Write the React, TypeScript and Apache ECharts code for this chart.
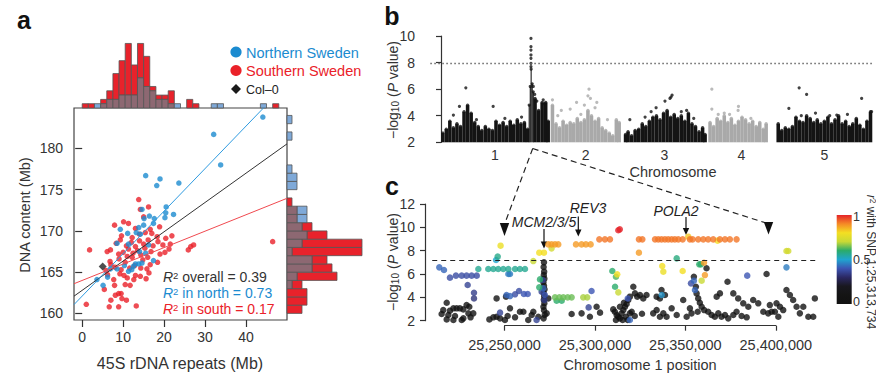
import React, { useEffect, useRef } from "react";
import * as echarts from "echarts";

const FONT = "'Liberation Sans', Arial, Helvetica, sans-serif";
const BLUE = "#1b8bd0";
const RED = "#ea2129";
const MAUVE = "#8d6872";
const BLUE_H = "#7fa9d8";
const RED_H = "#e8222b";
const INK = "#333333";

// ---------------- Panel a: scatter ----------------
const northPoints = [
  [44.1, 183.8], [32.1, 181.7], [33.8, 178.0], [15.5, 176.7], [18.2, 175.5], [19.0, 176.3], [23.6, 175.8],
  [20.4, 172.2], [20.5, 172.9], [22.3, 172.0], [20.2, 171.6], [17.6, 171.5], [16.4, 171.8], [15.1, 171.5], [14.6, 172.6],
  [15.0, 170.7], [13.8, 170.4], [13.2, 169.8], [11.1, 169.7], [9.3, 170.2], [17.4, 170.9], [14.2, 169.6],
  [8.5, 168.5], [11.3, 168.4], [15.5, 167.3], [17.4, 166.4], [13.8, 166.0], [14.6, 166.1], [13.0, 166.0],
  [10.3, 165.8], [12.1, 165.3], [11.3, 165.1], [8.5, 165.4], [6.9, 165.4], [6.2, 164.4], [3.6, 164.1], [5.1, 163.4],
  [12.5, 165.7], [16.2, 168.3], [14.0, 167.5],
];
const southPoints = [
  [6.6, 160.8], [8.9, 160.8], [13.2, 160.9],
  [1.0, 161.1], [9.7, 161.8], [10.8, 161.6], [7.0, 161.6],
  [8.9, 162.4], [8.1, 162.2], [9.5, 162.4], [5.4, 162.9],
  [7.9, 163.4], [10.5, 163.5], [11.7, 163.4],
  [7.7, 164.1], [12.6, 164.1], [13.0, 164.6], [9.2, 164.8], [11.0, 164.3], [14.2, 164.5], [15.6, 164.2], [6.2, 164.7], [16.3, 164.9], [10.2, 164.6],
  [5.8, 165.2], [8.0, 165.6], [9.5, 165.3], [12.8, 165.8], [14.3, 165.5], [15.8, 165.4], [16.6, 165.9], [11.6, 165.5], [7.0, 165.9],
  [6.8, 166.3], [9.0, 166.6], [10.5, 166.2], [12.2, 166.8], [14.8, 166.5], [16.0, 166.8], [18.4, 166.2], [11.0, 166.9],
  [1.8, 167.7], [6.1, 167.5], [6.9, 167.7], [8.9, 167.2], [10.0, 167.4], [11.3, 167.8], [12.4, 167.3], [13.5, 167.6], [14.3, 167.1], [15.3, 167.9], [16.8, 167.5], [19.0, 167.2], [21.2, 167.8], [25.9, 167.7], [20.2, 167.4],
  [8.3, 168.5], [9.3, 168.9], [10.8, 168.2], [12.0, 168.6], [13.0, 168.1], [14.0, 168.8], [15.0, 168.4], [16.1, 168.9], [17.3, 168.2], [18.5, 168.7], [19.7, 168.3], [21.5, 168.4], [26.5, 168.1], [27.2, 168.3], [46.5, 168.7],
  [9.6, 169.4], [12.2, 169.2], [14.0, 169.6], [15.4, 169.8], [17.0, 169.7], [18.3, 169.3], [20.4, 169.1], [21.9, 169.4],
  [7.9, 170.7], [13.0, 170.3], [16.6, 170.2], [18.9, 170.5], [11.3, 170.9],
  [10.1, 171.1], [15.0, 171.7],
  [14.2, 172.6], [16.2, 172.9],
  [13.8, 173.8],
];
const col0Point = [[5.0, 165.7]];
const overallFit = [[-2, 162.09], [50, 180.55]];
const northFit = [[-2, 161.07], [46, 185.8]];
const southFit = [[-2, 163.6], [50, 173.95]];

// top marginal histogram (bins of 1.5 Mb rDNA)
const TOP_BIN = 1.5;
const topBinStart = [0, 1.5, 3, 4.5, 6, 7.5, 9, 10.5, 12, 13.5, 15, 16.5, 18, 19.5, 21, 22.5, 24, 25.5, 27, 28.5, 30, 31.5, 33, 34.5, 36, 37.5, 39, 40.5, 42, 43.5, 45, 46.5];
const topNorth = [0, 0, 1, 1, 2, 2, 3, 3, 3, 7, 5, 4, 2, 2, 1, 1, 0, 0, 0, 0, 0, 1, 1, 0, 0, 0, 0, 0, 0, 1, 0, 0];
const topSouth = [1, 1, 0, 2, 4, 8, 11, 15, 10, 15, 12, 5, 3, 3, 4, 0, 0, 2, 1, 0, 0, 0, 0, 0, 0, 0, 0, 0, 0, 0, 0, 1];

// right marginal histogram (bins of 1 Mb DNA content)
const RIGHT_BIN = 1;
const rightBinStart = [160, 161, 162, 163, 164, 165, 166, 167, 168, 169, 170, 171, 172, 173, 174, 175, 176, 177, 178, 179, 180, 181, 182, 183];
const rightNorth = [0, 0, 0, 1, 2, 5, 5, 1, 3, 4, 3, 4, 4, 0, 0, 2, 2, 1, 0, 0, 0, 1, 0, 1];
const rightSouth = [3, 4, 4, 3, 10, 9, 8, 15, 15, 8, 5, 2, 2, 1, 0, 0, 0, 0, 0, 0, 0, 0, 0, 0];

const xTicksA = [0, 10, 20, 30, 40];
const yTicksA = [160, 165, 170, 175, 180];
const legendNames = ["Northern Sweden", "Southern Sweden", "Col–0"];

// ---------------- Panel b: Manhattan ----------------
const chrOffsets = [0, 30.9, 51.2, 75.3, 94.5];
const chrTicks = [15.2, 40.75, 62.95, 84.6, 108];
const chrLabels = ["1", "2", "3", "4", "5"];
// dense cloud envelopes: [position within chromosome (Mb), upper edge of cloud]
const chr1Env = [[0.5, 2.7], [1.5, 3.0], [2.5, 3.6], [3.5, 3.1], [4.5, 3.4], [5.5, 3.2], [6.5, 4.3], [7.5, 4.8], [8.5, 4.2], [9.5, 3.5], [10.5, 3.2], [11.5, 2.9], [12.5, 3.2], [13.5, 3.0], [14.5, 2.9], [15.5, 3.6], [16.5, 3.3], [17.5, 3.5], [18.5, 3.2], [19.5, 3.6], [20.5, 3.3], [21.5, 3.7], [22.5, 3.4], [23.5, 3.5], [24.4, 3.0], [26.5, 5.3], [27.5, 4.4], [28.5, 5.0], [29.5, 5.0], [30.2, 3.6]];
const chr1Peak = [[24.85, 4.8], [25.15, 6.2], [25.4, 7.5], [25.7, 6.4], [26.0, 5.8]];
const chr2Env = [[0.5, 4.8], [1.5, 3.4], [2.5, 3.1], [3.5, 3.6], [4.5, 3.3], [5.5, 3.5], [6.5, 3.4], [7.5, 3.8], [8.5, 3.5], [9.5, 3.7], [10.5, 4.4], [11.5, 4.0], [12.5, 3.6], [13.5, 3.8], [14.5, 3.1], [15.5, 2.9], [16.5, 2.7], [17.5, 2.5], [18.5, 3.7], [19.3, 3.5]];
const chr3Env = [[0.8, 2.6], [1.5, 2.8], [2.5, 2.5], [3.5, 2.9], [4.5, 3.0], [5.5, 3.4], [6.5, 3.2], [7.5, 3.6], [8.5, 3.9], [9.5, 4.0], [10.5, 3.7], [11.5, 4.2], [12.5, 4.4], [13.5, 3.9], [14.5, 4.1], [15.5, 3.8], [16.5, 4.0], [17.5, 3.6], [18.5, 4.2], [19.5, 3.4], [20.5, 3.2], [21.5, 2.8], [22.5, 3.1], [23.2, 2.6]];
const chr4Env = [[0.5, 3.5], [1.5, 3.2], [2.5, 3.8], [3.5, 3.6], [4.5, 4.0], [5.5, 3.5], [6.5, 3.8], [7.5, 3.3], [8.5, 3.6], [9.5, 3.9], [10.5, 3.7], [11.5, 3.4], [12.5, 3.6], [13.5, 3.2], [14.5, 3.5], [15.5, 3.0], [16.3, 3.4]];
const chr5Env = [[0.5, 3.4], [1.5, 2.9], [2.5, 3.1], [3.5, 3.0], [4.5, 3.2], [5.5, 3.9], [6.5, 3.6], [7.5, 3.5], [8.5, 4.0], [9.5, 3.8], [10.5, 3.5], [11.5, 3.7], [12.5, 3.4], [13.5, 3.6], [14.5, 3.9], [15.5, 3.4], [16.5, 3.7], [17.5, 4.0], [18.5, 3.4], [19.5, 3.6], [20.5, 3.2], [21.5, 3.4], [22.5, 3.8], [23.5, 3.3], [24.5, 3.0], [25.5, 3.6], [26.5, 4.3]];
// isolated SNPs above the cloud
const chr1Pts = [[3.5, 4.05], [5.2, 4.7], [7.0, 6.1], [14.7, 4.7], [22.7, 3.9], [18.0, 3.8], [10.0, 3.7], [25.35, 9.82], [25.35, 9.2], [25.35, 8.94], [25.35, 8.57], [25.35, 8.32], [25.35, 7.94], [25.35, 7.69], [26.0, 6.2], [28.8, 5.2], [29.2, 4.9], [26.4, 5.6], [27.0, 5.1]];
const chr2Pts = [[0.5, 5.2], [7.3, 5.0], [5.5, 4.5], [10.8, 6.0], [10.5, 5.5], [11.2, 5.3], [9.5, 4.8], [13.0, 5.0], [12.5, 4.6], [3.0, 4.4], [8.5, 4.1], [2.0, 4.0], [16.0, 3.7]];
const chr3Pts = [[2.0, 3.7], [6.3, 3.9], [9.4, 4.6], [11.9, 5.1], [13.3, 5.3], [13.9, 5.55], [13.6, 5.4], [18.0, 4.4], [8.0, 4.3], [16.5, 4.3], [20.0, 3.8]];
const chr4Pts = [[1.0, 6.0], [1.0, 4.5], [8.5, 4.7], [8.4, 4.4], [4.5, 4.2], [2.8, 4.1], [6.0, 4.1], [12.0, 3.8]];
const chr5Pts = [[3.5, 4.55], [6.4, 6.1], [8.5, 5.6], [24.0, 5.3], [17.0, 4.05], [7.0, 4.0], [11.0, 4.2], [15.0, 4.0], [20.0, 4.1], [26.8, 4.3]];
const GWAS_THRESHOLD = 7.95;

// ---------------- Panel c: regional plot ----------------
const cBlackWest = [
  [25215200, 2.57], [25218000, 2.11], [25219800, 2.86], [25221700, 3.06], [25223500, 3.06], [25225300, 3.06], [25227200, 2.97], [25218900, 2.49], [25222600, 2.4], [25227200, 2.2], [25230000, 2.63], [25231200, 2.29], [25232700, 2.63], [25229000, 3.34], [25218000, 3.54], [25216100, 2.91], [25226300, 2.06], [25221700, 2.06], [25230500, 3.2],
  [25250800, 4.06], [25245600, 3.91], [25241600, 2.11], [25243800, 2.29], [25245600, 2.34], [25247500, 2.2], [25250200, 2.06], [25251700, 2.4], [25253000, 3.06], [25255800, 2.29], [25258500, 2.77], [25260400, 2.77], [25263100, 2.06], [25265000, 2.49], [25265900, 2.77], [25268700, 2.34],
  [25271800, 7.0], [25271600, 6.6], [25271900, 6.2], [25271700, 5.9], [25272000, 5.6], [25271500, 5.3], [25271800, 5.0], [25272100, 4.7], [25271600, 4.4], [25271900, 4.1], [25271700, 3.8], [25272000, 3.5], [25271500, 3.2], [25271800, 2.9], [25272200, 2.5], [25271600, 2.2], [25273300, 2.63], [25274200, 3.91],
];
const cBlackCentre = [
  [25287100, 2.57], [25292600, 2.63], [25297200, 2.34], [25302800, 2.69], [25300900, 3.2],
  [25310100, 2.97], [25311000, 2.77], [25312000, 2.49], [25312900, 2.34], [25313800, 2.2], [25314700, 2.63], [25315700, 2.91], [25316600, 3.2], [25317500, 3.43], [25318400, 3.77], [25319300, 4.06], [25315300, 2.06], [25311600, 2.06], [25317100, 2.34], [25319300, 2.63], [25320300, 2.77], [25318100, 2.06], [25313800, 3.2], [25316000, 3.54],
  [25321200, 4.91], [25322100, 4.34], [25323400, 4.06], [25324900, 4.2], [25326700, 3.91], [25328500, 4.2], [25322000, 2.4], [25326000, 2.6],
  [25334100, 4.06], [25335900, 3.91], [25336800, 4.63], [25338700, 4.2], [25334100, 2.91], [25335900, 2.34], [25337800, 2.63], [25339600, 2.34], [25342400, 3.06], [25345200, 2.49], [25348800, 3.77], [25350700, 2.34], [25353400, 2.63], [25356800, 2.77], [25352500, 3.06], [25332200, 2.63],
];
const cBlackEast = [
  [25354700, 5.77], [25355800, 4.91], [25356200, 4.34], [25357100, 3.91], [25358000, 3.54], [25359000, 3.2], [25360400, 2.91], [25361700, 6.49], [25362600, 2.77], [25364500, 2.49], [25366300, 2.34], [25368200, 2.63], [25370000, 2.34], [25371900, 2.49], [25373700, 2.2], [25376500, 2.49], [25378300, 2.77], [25381100, 2.4], [25383900, 2.29], [25367300, 4.06], [25369100, 4.34], [25373300, 5.34], [25376500, 4.34], [25382000, 3.49], [25387500, 3.77], [25390300, 3.49], [25384800, 3.2], [25393100, 2.77], [25379200, 3.91],
  [25394900, 6.0], [25396700, 3.34], [25399500, 2.77], [25400400, 3.49], [25402300, 3.2], [25404100, 2.91], [25405900, 4.63], [25407800, 4.2], [25409600, 3.77], [25411500, 3.2], [25413300, 2.63], [25415200, 3.2], [25418000, 2.34], [25421600, 3.91], [25420700, 2.34], [25395800, 2.63], [25397700, 2.77], [25401400, 2.34],
];
// [position, -log10 P, r2 with lead SNP]
const cLinkedWest = [
  [25213900, 6.57, 0.42], [25216500, 6.34, 0.42], [25219800, 5.69, 0.38], [25223100, 5.86, 0.38], [25226300, 5.86, 0.38], [25229000, 5.86, 0.38], [25231800, 5.86, 0.38], [25234600, 5.86, 0.38], [25229600, 5.06, 0.36], [25233100, 4.4, 0.35], [25233100, 3.91, 0.33], [25235500, 6.43, 0.56],
  [25245300, 7.2, 0.5], [25246200, 7.49, 0.57], [25247800, 8.43, 0.78],
  [25241000, 6.43, 0.56], [25243800, 6.43, 0.56], [25246500, 6.43, 0.56], [25249300, 6.43, 0.56], [25252100, 6.43, 0.56], [25255800, 6.43, 0.56], [25258500, 6.43, 0.56], [25261300, 6.43, 0.56],
  [25252100, 6.0, 0.45], [25253000, 6.0, 0.45],
  [25251100, 4.2, 0.42], [25253000, 4.11, 0.42], [25255800, 4.26, 0.38], [25258000, 4.54, 0.38], [25260700, 4.29, 0.4], [25262800, 4.29, 0.4],
  [25265900, 7.11, 0.7], [25269200, 7.83, 0.8], [25271800, 7.83, 0.8], [25269200, 4.86, 0.6], [25269600, 5.54, 0.6], [25267700, 2.06, 0.36], [25247500, 2.69, 0.36],
  [25271400, 4.77, 0.42], [25270500, 4.49, 0.36], [25271100, 5.49, 0.36], [25272300, 4.2, 0.4], [25272000, 3.77, 0.35],
];
const cLinkedCentre = [
  [25274200, 8.54, 0.88], [25276000, 8.54, 0.88], [25277900, 8.54, 0.88], [25279700, 8.54, 0.88], [25276000, 8.2, 0.72],
  [25277900, 4.0, 0.64], [25280300, 4.0, 0.64], [25282500, 4.0, 0.64], [25284900, 4.0, 0.64], [25287100, 4.0, 0.64], [25278800, 3.71, 0.6], [25281600, 3.71, 0.6],
  [25289500, 8.54, 0.88], [25292600, 8.54, 0.88], [25295000, 8.54, 0.88], [25297600, 8.54, 0.88],
  [25293500, 4.0, 0.68], [25295700, 4.0, 0.68], [25298100, 4.54, 0.4], [25296500, 3.14, 0.36],
  [25302400, 8.97, 0.92], [25305500, 8.97, 0.92], [25308300, 8.97, 0.92],
  [25313734, 9.83, 1.0], [25312900, 9.75, 1.0],
  [25309600, 6.26, 0.6], [25312300, 5.97, 0.8], [25311600, 5.77, 0.62], [25311100, 4.91, 0.6], [25312900, 4.43, 0.7], [25318100, 3.9, 0.4], [25319300, 2.06, 0.42],
  [25324300, 8.97, 0.92], [25326200, 8.97, 0.92], [25324300, 7.83, 0.88],
];
const cLinkedEast = [
  [25333200, 8.97, 0.92], [25335000, 8.97, 0.92], [25336800, 8.97, 0.92], [25338700, 8.97, 0.92], [25340500, 8.97, 0.92], [25342400, 8.97, 0.92], [25344200, 8.97, 0.92], [25346100, 8.97, 0.92], [25348500, 8.97, 0.92], [25352500, 8.97, 0.92], [25354000, 8.97, 0.92],
  [25351600, 9.2, 0.83], [25345200, 7.34, 0.58], [25337200, 6.69, 0.8], [25337800, 6.2, 0.78], [25336900, 4.2, 0.48], [25348500, 6.26, 0.8],
  [25357100, 8.97, 0.92], [25359900, 8.97, 0.92], [25362600, 8.97, 0.92], [25365400, 8.97, 0.92], [25369100, 8.97, 0.92], [25371900, 8.97, 0.92], [25374600, 8.97, 0.92], [25378300, 8.97, 0.92],
  [25367800, 8.86, 0.8], [25357700, 6.83, 0.6], [25358600, 6.83, 0.6], [25360300, 6.97, 0.88], [25360800, 5.91, 0.88], [25359000, 5.43, 0.7], [25354700, 5.43, 0.42], [25355300, 4.63, 0.42], [25353100, 5.2, 0.38], [25384200, 5.86, 0.4],
  [25405900, 7.97, 0.72], [25406900, 7.97, 0.72], [25405900, 6.57, 0.45],
];
const REGION_THRESHOLD = 7.2;
const R2_COLORS = ["#111111", "#141414", "#19181f", "#2b2863", "#3c55b3", "#1fa5cf", "#2bab6a", "#c9d935", "#f4df22", "#f58a26", "#e52329"];
const colorbarTicks = ["1", "0.5", "0"];

function buildOption() {
  const axisText = { color: INK, fontSize: 14, fontFamily: FONT };
  const axisLine = { show: true, lineStyle: { color: INK, width: 1.2 } };

  const histTop = (params: any, api: any) => {
    const x0 = api.value(0), n = api.value(1), s = api.value(2);
    const lo = Math.min(n, s), hi = Math.max(n, s);
    const mk = (v0: number, v1: number, fill: string) => {
      const a = api.coord([x0, v0]);
      const b = api.coord([x0 + TOP_BIN, v1]);
      return { type: "rect", shape: { x: a[0], y: b[1], width: b[0] - a[0], height: a[1] - b[1] }, style: { fill, stroke: "#555", lineWidth: 0.8 } };
    };
    const children: any[] = [];
    if (hi > lo) children.push(mk(lo, hi, s > n ? RED_H : BLUE_H));
    if (lo > 0) children.push(mk(0, lo, MAUVE));
    return { type: "group", children };
  };
  const histRight = (params: any, api: any) => {
    const y0 = api.value(0), n = api.value(1), s = api.value(2);
    const lo = Math.min(n, s), hi = Math.max(n, s);
    const mk = (v0: number, v1: number, fill: string) => {
      const a = api.coord([v0, y0]);
      const b = api.coord([v1, y0 + RIGHT_BIN]);
      return { type: "rect", shape: { x: a[0], y: b[1], width: b[0] - a[0], height: a[1] - b[1] }, style: { fill, stroke: "#555", lineWidth: 0.8 } };
    };
    const children: any[] = [];
    if (hi > lo) children.push(mk(lo, hi, s > n ? RED_H : BLUE_H));
    if (lo > 0) children.push(mk(0, lo, MAUVE));
    return { type: "group", children };
  };

  const envs = [chr1Env, chr2Env, chr3Env, chr4Env, chr5Env];
  const pts = [chr1Pts, chr2Pts, chr3Pts, chr4Pts, chr5Pts];
  const envData: any[] = [];
  const topDots: any[] = [];
  envs.forEach((env, ci) => {
    env.forEach(([c, t]) => {
      envData.push([chrOffsets[ci] + c - 0.5, chrOffsets[ci] + c + 0.5, t, ci % 2]);
      topDots.push([chrOffsets[ci] + c, t, ci % 2]);
    });
  });
  chr1Peak.forEach(([c, t]) => {
    envData.push([c - 0.15, c + 0.15, t, 0]);
    topDots.push([c, t, 0]);
  });
  const outliers: any[] = [];
  pts.forEach((list, ci) => list.forEach(([p, v]) => outliers.push([chrOffsets[ci] + p, v, ci % 2])));

  const manhattanRender = (params: any, api: any) => {
    const a = api.coord([api.value(0), 2]);
    const b = api.coord([api.value(1), api.value(2)]);
    return { type: "rect", shape: { x: a[0], y: b[1], width: b[0] - a[0], height: a[1] - b[1] }, style: { fill: api.value(3) ? "#a9a9a9" : "#141414" } };
  };

  const linked = [...cLinkedWest, ...cLinkedCentre, ...cLinkedEast].sort((p, q) => p[2] - q[2]);
  const blackC = [...cBlackWest, ...cBlackCentre, ...cBlackEast];

  const series: any[] = [
    { name: legendNames[1], type: "scatter", xAxisIndex: 0, yAxisIndex: 0, data: southPoints, symbolSize: 5.5, itemStyle: { color: RED }, z: 3 },
    { name: legendNames[0], type: "scatter", xAxisIndex: 0, yAxisIndex: 0, data: northPoints, symbolSize: 5.5, itemStyle: { color: BLUE }, z: 3 },
    { name: "overall fit", type: "line", xAxisIndex: 0, yAxisIndex: 0, data: overallFit, symbol: "none", lineStyle: { color: "#333", width: 1 }, z: 4, silent: true },
    { name: "north fit", type: "line", xAxisIndex: 0, yAxisIndex: 0, data: northFit, symbol: "none", lineStyle: { color: "#2f9be0", width: 1 }, z: 4, silent: true },
    { name: "south fit", type: "line", xAxisIndex: 0, yAxisIndex: 0, data: southFit, symbol: "none", lineStyle: { color: "#f0494f", width: 1 }, z: 4, silent: true },
    { name: legendNames[2], type: "scatter", xAxisIndex: 0, yAxisIndex: 0, data: col0Point, symbol: "diamond", symbolSize: 8, itemStyle: { color: "#222" }, z: 5 },
    { name: "top hist", type: "custom", xAxisIndex: 1, yAxisIndex: 1, renderItem: histTop, data: topBinStart.map((b, i) => [b, topNorth[i], topSouth[i]]), silent: true },
    { name: "right hist", type: "custom", xAxisIndex: 2, yAxisIndex: 2, renderItem: histRight, data: rightBinStart.map((b, i) => [b, rightNorth[i], rightSouth[i]]), encode: { x: [1, 2], y: 0 }, silent: true },
    { name: "cloud", type: "custom", xAxisIndex: 3, yAxisIndex: 3, renderItem: manhattanRender, data: envData, silent: true },
    { name: "cloud tops", type: "scatter", xAxisIndex: 3, yAxisIndex: 3, data: topDots, symbolSize: 3.2, itemStyle: { color: (p: any) => (p.data[2] ? "#a9a9a9" : "#141414") }, silent: true },
    {
      name: "snps", type: "scatter", xAxisIndex: 3, yAxisIndex: 3, data: outliers, symbolSize: 3.2,
      itemStyle: { color: (p: any) => (p.data[2] ? "#a9a9a9" : "#141414") }, silent: true,
      markLine: { silent: true, symbol: "none", label: { show: false }, lineStyle: { type: [1.5, 2.5], color: "#666", width: 1.3 }, data: [[{ coord: [-3, GWAS_THRESHOLD] }, { coord: [121.7, GWAS_THRESHOLD] }]] },
    },
    {
      name: "r2 low", type: "scatter", xAxisIndex: 4, yAxisIndex: 4, data: blackC, symbolSize: 6.5, itemStyle: { color: "#111" }, silent: true,
      markLine: { silent: true, symbol: "none", label: { show: false }, lineStyle: { type: [5, 4], color: "#222", width: 1 }, data: [[{ coord: [25210000, REGION_THRESHOLD] }, { coord: [25423000, REGION_THRESHOLD] }]] },
    },
    { name: "r2 linked", type: "scatter", xAxisIndex: 4, yAxisIndex: 4, data: linked, symbolSize: 6.5, silent: true },
  ];
  const linkedIndex = series.length - 1;

  const grad = new echarts.graphic.LinearGradient(0, 0, 0, 1, R2_COLORS.slice().reverse().map((c, i) => ({ offset: i / (R2_COLORS.length - 1), color: c })));

  const text = (x: number, y: number, t: string, extra: any = {}, rotation = 0) => ({
    type: "text", x, y, rotation, silent: true,
    style: { text: t, fontFamily: FONT, fontSize: 14, fill: INK, align: "center", verticalAlign: "middle", ...extra },
  });
  const rich = (color: string, size = 14) => ({
    i: { fontStyle: "italic", fontSize: size, fill: color, color, fontFamily: FONT },
    s: { fontSize: size * 0.68, verticalAlign: "top", fill: color, color, fontFamily: FONT },
    sub: { fontSize: size * 0.72, verticalAlign: "bottom", fill: color, color, fontFamily: FONT },
  });
  const arrow = (x: number, y1: number, y2: number) => [
    { type: "line", silent: true, shape: { x1: x, y1, x2: x, y2: y2 - 5 }, style: { stroke: "#111", lineWidth: 1.2 } },
    { type: "polygon", silent: true, shape: { points: [[x - 3.2, y2 - 7], [x + 3.2, y2 - 7], [x, y2]] }, style: { fill: "#111" } },
  ];

  const graphic: any[] = [
    text(24, 19.5, "a", { fontSize: 25, fontWeight: "bold", fill: "#111" }),
    text(392, 16, "b", { fontSize: 25, fontWeight: "bold", fill: "#111" }),
    text(392, 186, "c", { fontSize: 25, fontWeight: "bold", fill: "#111" }),
    // legend of panel a
    { type: "circle", silent: true, shape: { cx: 236, cy: 52, r: 5.6 }, style: { fill: BLUE } },
    { type: "circle", silent: true, shape: { cx: 236, cy: 70.5, r: 5.6 }, style: { fill: RED } },
    { type: "polygon", silent: true, shape: { points: [[236, 84], [241, 89], [236, 94], [231, 89]] }, style: { fill: "#1a1a1a" } },
    text(246, 52.5, legendNames[0], { align: "left", fill: BLUE, fontSize: 14.5 }),
    text(246, 71, legendNames[1], { align: "left", fill: RED, fontSize: 14.5 }),
    text(246, 89.5, legendNames[2], { align: "left", fill: "#222", fontSize: 12.5 }),
    text(180, 363, "45S rDNA repeats (Mb)", { fontSize: 16 }),
    text(25, 215, "DNA content (Mb)", { fontSize: 14.5 }, Math.PI / 2),
    text(163, 277, "{i|R}{s|2} overall = 0.39", { align: "left", fill: INK, rich: rich(INK) }),
    text(163, 293.3, "{i|R}{s|2} in north = 0.73", { align: "left", fill: BLUE, rich: rich(BLUE) }),
    text(163, 309.3, "{i|R}{s|2} in south = 0.17", { align: "left", fill: RED, rich: rich(RED) }),
    text(673, 172, "Chromosome", { fontSize: 14.5 }),
    text(640, 365, "Chromosome 1 position", { fontSize: 14.5 }),
    text(393, 90, "−log{sub|10} ({i|P} value)", { rich: rich(INK) }, Math.PI / 2),
    text(393, 262, "−log{sub|10} ({i|P} value)", { rich: rich(INK) }, Math.PI / 2),
    // zoom connector
    { type: "polyline", silent: true, shape: { points: [[532.7, 148.5], [505, 223]] }, style: { stroke: "#222", lineWidth: 1.2, lineDash: [6, 4], fill: "none" } },
    { type: "polyline", silent: true, shape: { points: [[532.7, 148.5], [766, 223]] }, style: { stroke: "#222", lineWidth: 1.2, lineDash: [6, 4], fill: "none" } },
    { type: "polygon", silent: true, shape: { points: [[499.8, 223], [509.2, 223], [504.5, 236]] }, style: { fill: "#111" } },
    { type: "polygon", silent: true, shape: { points: [[763.8, 222], [773.2, 222], [768.5, 234.5]] }, style: { fill: "#111" } },
    // gene annotations
    text(544, 221.7, "MCM2/3/5", { fontStyle: "italic", fill: "#222" }),
    ...arrow(544, 229, 248.5),
    text(588, 207.5, "REV3", { fontStyle: "italic", fill: "#222" }),
    ...arrow(578.3, 216.5, 236.5),
    text(676, 210.7, "POLA2", { fontStyle: "italic", fill: "#222" }),
    ...arrow(686, 217, 235),
    // colour bar
    { type: "rect", silent: true, shape: { x: 836.7, y: 215, width: 15, height: 89 }, style: { fill: grad } },
    text(853, 217, colorbarTicks[0], { align: "left", fontSize: 12.5 }),
    text(853, 259.5, colorbarTicks[1], { align: "left", fontSize: 12.5 }),
    text(853, 301.5, colorbarTicks[2], { align: "left", fontSize: 12.5 }),
    text(870.5, 262, "{i|r}{s|2} with SNP 1:25,313,734", { fontSize: 12, rich: rich(INK, 12) }, -Math.PI / 2),
  ];

  return {
    animation: false,
    textStyle: { fontFamily: FONT },
    grid: [
      { left: 74, top: 108, width: 213, height: 212, show: true, borderColor: "#444", borderWidth: 1.2, backgroundColor: "transparent" },
      { left: 74, top: 40, width: 213, height: 68 },
      { left: 287, top: 108, width: 76, height: 212 },
      { left: 425, top: 36, width: 448, height: 106.3 },
      { left: 425, top: 204, width: 396, height: 116.7 },
      { left: 504.56, top: 324.7, width: 271.23, height: 1 },
    ],
    xAxis: [
      {
        gridIndex: 0, type: "value", min: -2, max: 50, axisLine: { show: false }, splitLine: { show: false },
        axisTick: { show: true, length: 7, customValues: xTicksA, lineStyle: { color: INK, width: 1.2 } },
        axisLabel: { ...axisText, margin: 10, customValues: xTicksA },
      },
      { gridIndex: 1, type: "value", min: -2, max: 50, show: false },
      { gridIndex: 2, type: "value", min: 0, max: 15.2, show: false },
      {
        gridIndex: 3, type: "value", min: -4.5, max: 121.7, axisLine: { show: false }, axisTick: { show: false }, splitLine: { show: false },
        axisLabel: {
          ...axisText, margin: 6, customValues: chrTicks,
          formatter: (v: number) => {
            let best = 0;
            chrTicks.forEach((t, i) => { if (Math.abs(t - v) < Math.abs(chrTicks[best] - v)) best = i; });
            return chrLabels[best];
          },
        },
      },
      { gridIndex: 4, type: "value", min: 25206000, max: 25425000, show: false },
      {
        gridIndex: 5, type: "value", min: 25250000, max: 25400000, interval: 50000, position: "bottom",
        axisLine, splitLine: { show: false },
        axisTick: { show: true, length: 5, lineStyle: { color: INK, width: 1.2 } },
        axisLabel: { ...axisText, fontSize: 14.5, margin: 12, formatter: (v: number) => v.toLocaleString("en-US") },
      },
    ],
    yAxis: [
      {
        gridIndex: 0, type: "value", min: 159.2, max: 184.9, axisLine: { show: false }, splitLine: { show: false },
        axisTick: { show: true, length: 7, customValues: yTicksA, lineStyle: { color: INK, width: 1.2 } },
        axisLabel: { ...axisText, margin: 11, customValues: yTicksA },
      },
      { gridIndex: 1, type: "value", min: 0, max: 15.8, show: false },
      { gridIndex: 2, type: "value", min: 159.2, max: 184.9, show: false },
      {
        gridIndex: 3, type: "value", min: 2, max: 10, interval: 2, axisLine, splitLine: { show: false },
        axisTick: { show: true, length: 5, lineStyle: { color: INK, width: 1.2 } },
        axisLabel: { ...axisText, margin: 10 },
      },
      {
        gridIndex: 4, type: "value", min: 2, max: 12, interval: 2, axisLine, splitLine: { show: false },
        axisTick: { show: true, length: 5, lineStyle: { color: INK, width: 1.2 } },
        axisLabel: { ...axisText, margin: 10 },
      },
      { gridIndex: 5, type: "value", min: 0, max: 1, show: false },
    ],
    visualMap: [{ type: "continuous", show: false, min: 0, max: 1, dimension: 2, seriesIndex: linkedIndex, inRange: { color: R2_COLORS } }],
    series,
    graphic,
  };
}

export default function App() {
  const ref = useRef<HTMLDivElement>(null);
  useEffect(() => {
    if (!ref.current) return;
    const chart = echarts.init(ref.current, null, { renderer: "svg" });
    chart.setOption(buildOption() as any);
    return () => chart.dispose();
  }, []);
  return <div ref={ref} style={{ position: "absolute", left: 0, top: 0, width: 876, height: 377, background: "#fff" }} />;
}
